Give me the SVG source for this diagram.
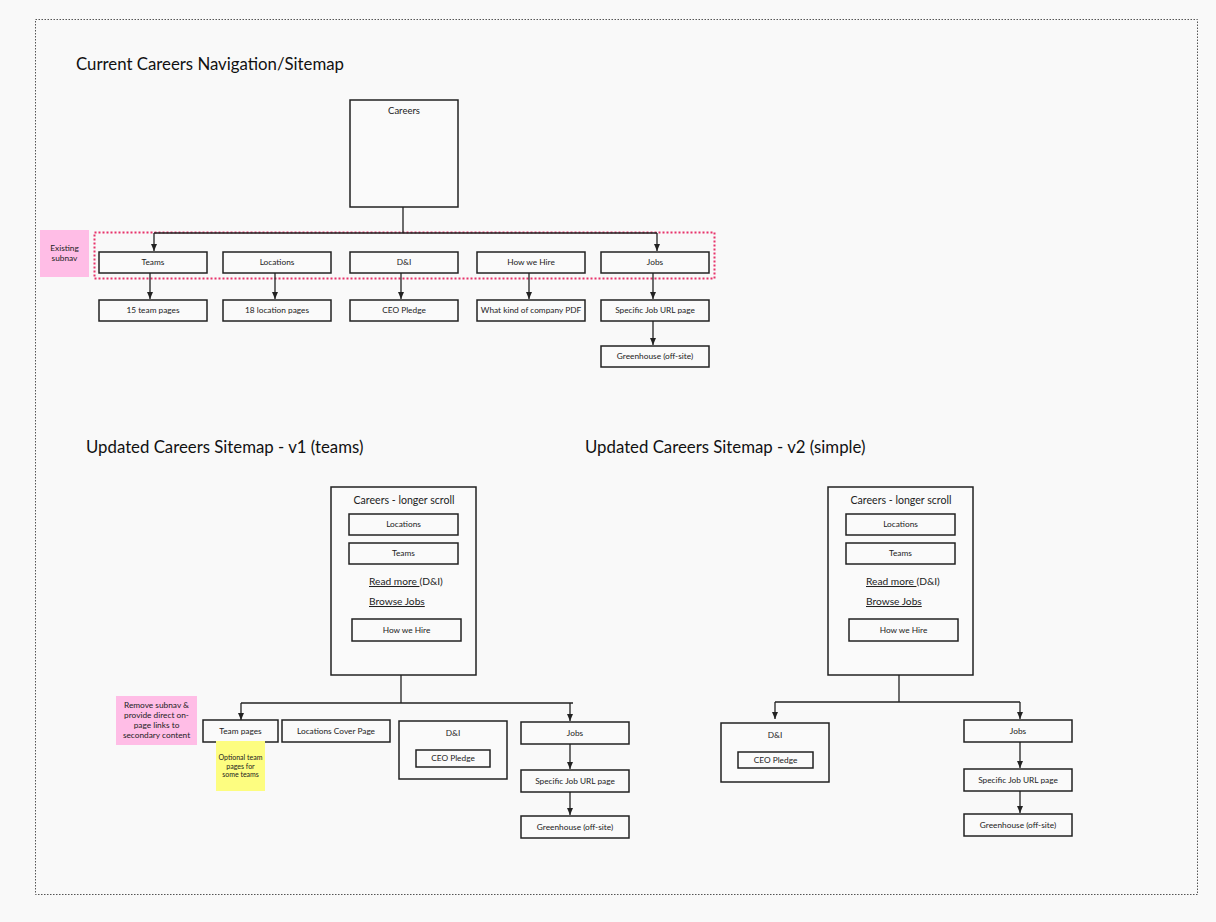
<svg xmlns="http://www.w3.org/2000/svg" width="1216" height="922" viewBox="0 0 1216 922">
<defs>
<marker id="ah" viewBox="0 0 8 8" refX="7" refY="4" markerWidth="8" markerHeight="8" markerUnits="userSpaceOnUse" orient="auto"><path d="M0,1 L7,4 L0,7 Z" fill="#222"/></marker>
<style>
.bx{fill:#fafafa;stroke:#222;stroke-width:1.5}
.t{font-family:Lato,"Liberation Sans",sans-serif;font-size:8.3px;fill:#222;text-anchor:middle}
.tt{font-family:Lato,"Liberation Sans",sans-serif;font-size:16.8px;fill:#111}
.m{font-family:Lato,"Liberation Sans",sans-serif;font-size:10.2px;fill:#222}
.c{fill:none;stroke:#222;stroke-width:1.3}
.ca{fill:none;stroke:#222;stroke-width:1.3;marker-end:url(#ah)}
</style>
</defs>
<rect width="1216" height="922" fill="#f9f9f9"/>
<rect x="35.5" y="19.5" width="1162" height="875" fill="none" stroke="#555" stroke-width="1" stroke-dasharray="1.5,1.5"/>
<text class="tt" x="76" y="70">Current Careers Navigation/Sitemap</text>
<text class="tt" x="86" y="453">Updated Careers Sitemap - v1 (teams)</text>
<text class="tt" x="585" y="453">Updated Careers Sitemap - v2 (simple)</text>

<g id="subnav-frame"><rect x="94.5" y="232.5" width="620" height="46" fill="none" stroke="#e8336b" stroke-width="2" stroke-dasharray="2,2"/></g>
<g id="note-existing"><rect x="40" y="230" width="49" height="47" fill="#ffbde6"/><text class="t" x="64.5" y="251">Existing</text><text class="t" x="64.5" y="261">subnav</text></g>

<g id="connectors">
<path class="c" d="M403,207 V233 M154,233 H657"/>
<path class="ca" d="M154,233 V251"/>
<path class="ca" d="M657,233 V251"/>
<path class="ca" d="M150,273 V299"/>
<path class="ca" d="M275,273 V299"/>
<path class="ca" d="M401,273 V299"/>
<path class="ca" d="M529,273 V299"/>
<path class="ca" d="M653,273 V299"/>
<path class="ca" d="M653,321 V345"/>
<path class="c" d="M401,675 V703 M241,703 H573"/>
<path class="ca" d="M241,703 V720"/>
<path class="ca" d="M570,703 V721"/>
<path class="ca" d="M570,744 V769"/>
<path class="ca" d="M570,792 V815"/>
<path class="c" d="M899,675 V702 M775,702 H1020"/>
<path class="ca" d="M775,702 V719"/>
<path class="ca" d="M1020,702 V719"/>
<path class="ca" d="M1020,742 V768"/>
<path class="ca" d="M1020,791 V813"/>
</g>

<g id="careers"><rect class="bx" x="350" y="100" width="108" height="107"/><text class="t" x="404" y="114" style="font-size:9.5px">Careers</text></g>
<g id="teams"><rect class="bx" x="99" y="252" width="108" height="21"/><text class="t" x="153" y="265">Teams</text></g>
<g id="locations"><rect class="bx" x="223" y="252" width="108" height="21"/><text class="t" x="277" y="265">Locations</text></g>
<g id="dni"><rect class="bx" x="350" y="252" width="108" height="21"/><text class="t" x="404" y="265">D&amp;I</text></g>
<g id="howwehire"><rect class="bx" x="477" y="252" width="108" height="21"/><text class="t" x="531" y="265">How we Hire</text></g>
<g id="jobs"><rect class="bx" x="601" y="252" width="108" height="21"/><text class="t" x="655" y="265">Jobs</text></g>
<g id="teampages15"><rect class="bx" x="99" y="300" width="108" height="21"/><text class="t" x="153" y="313">15 team pages</text></g>
<g id="locpages18"><rect class="bx" x="223" y="300" width="108" height="21"/><text class="t" x="277" y="313">18 location pages</text></g>
<g id="ceopledge"><rect class="bx" x="350" y="300" width="108" height="21"/><text class="t" x="404" y="313">CEO Pledge</text></g>
<g id="pdf"><rect class="bx" x="477" y="300" width="108" height="21"/><text class="t" x="531" y="313">What kind of company PDF</text></g>
<g id="specificjob"><rect class="bx" x="601" y="300" width="108" height="21"/><text class="t" x="655" y="313">Specific Job URL page</text></g>
<g id="greenhouse"><rect class="bx" x="601" y="346" width="108" height="21"/><text class="t" x="655" y="359">Greenhouse (off-site)</text></g>

<g id="v1-careers">
<rect class="bx" x="331" y="487" width="145" height="188"/>
<text class="t" x="404" y="504" style="font-size:10.6px">Careers - longer scroll</text>
<rect class="bx" x="349" y="514" width="109" height="21"/><text class="t" x="403.5" y="527">Locations</text>
<rect class="bx" x="349" y="543" width="109" height="21"/><text class="t" x="403.5" y="556">Teams</text>
<text class="m" x="369" y="585"><tspan text-decoration="underline">Read more </tspan>(D&amp;I)</text>
<text class="m" x="369" y="605" text-decoration="underline">Browse Jobs</text>
<rect class="bx" x="352" y="619" width="109" height="22"/><text class="t" x="406.5" y="633">How we Hire</text>
</g>
<g id="v1-note-remove"><rect x="116" y="696" width="81" height="49" fill="#ffbde6"/>
<text class="t" x="156.5" y="708">Remove subnav &amp;</text><text class="t" x="156.5" y="718">provide direct on-</text><text class="t" x="156.5" y="728">page links to</text><text class="t" x="156.5" y="738">secondary content</text></g>
<g id="v1-teampages"><rect class="bx" x="203" y="720" width="75" height="22"/><text class="t" x="240.5" y="734">Team pages</text></g>
<g id="v1-note-optional"><rect x="216" y="741" width="49" height="50" fill="#fdfd80"/>
<text class="t" x="240.5" y="760" style="font-size:7px">Optional team</text><text class="t" x="240.5" y="769" style="font-size:7px">pages for</text><text class="t" x="240.5" y="777" style="font-size:7px">some teams</text></g>
<g id="v1-loccover"><rect class="bx" x="282" y="720" width="108" height="22"/><text class="t" x="336" y="734">Locations Cover Page</text></g>
<g id="v1-dni"><rect class="bx" x="399" y="721" width="108" height="58"/><text class="t" x="453" y="736">D&amp;I</text>
<rect class="bx" x="416" y="750" width="74" height="17"/><text class="t" x="453" y="761">CEO Pledge</text></g>
<g id="v1-jobs"><rect class="bx" x="521" y="722" width="108" height="22"/><text class="t" x="575" y="736">Jobs</text></g>
<g id="v1-specific"><rect class="bx" x="521" y="770" width="108" height="22"/><text class="t" x="575" y="784">Specific Job URL page</text></g>
<g id="v1-greenhouse"><rect class="bx" x="521" y="816" width="108" height="22"/><text class="t" x="575" y="830">Greenhouse (off-site)</text></g>

<g id="v2-careers">
<rect class="bx" x="828" y="487" width="145" height="188"/>
<text class="t" x="901" y="504" style="font-size:10.6px">Careers - longer scroll</text>
<rect class="bx" x="846" y="514" width="109" height="21"/><text class="t" x="900.5" y="527">Locations</text>
<rect class="bx" x="846" y="543" width="109" height="21"/><text class="t" x="900.5" y="556">Teams</text>
<text class="m" x="866" y="585"><tspan text-decoration="underline">Read more </tspan>(D&amp;I)</text>
<text class="m" x="866" y="605" text-decoration="underline">Browse Jobs</text>
<rect class="bx" x="849" y="619" width="109" height="22"/><text class="t" x="903.5" y="633">How we Hire</text>
</g>
<g id="v2-dni"><rect class="bx" x="721" y="723" width="108" height="59"/><text class="t" x="775" y="738">D&amp;I</text>
<rect class="bx" x="738" y="752" width="75" height="16"/><text class="t" x="775.5" y="763">CEO Pledge</text></g>
<g id="v2-jobs"><rect class="bx" x="964" y="720" width="108" height="22"/><text class="t" x="1018" y="734">Jobs</text></g>
<g id="v2-specific"><rect class="bx" x="964" y="769" width="108" height="22"/><text class="t" x="1018" y="783">Specific Job URL page</text></g>
<g id="v2-greenhouse"><rect class="bx" x="964" y="814" width="108" height="22"/><text class="t" x="1018" y="828">Greenhouse (off-site)</text></g>
</svg>
